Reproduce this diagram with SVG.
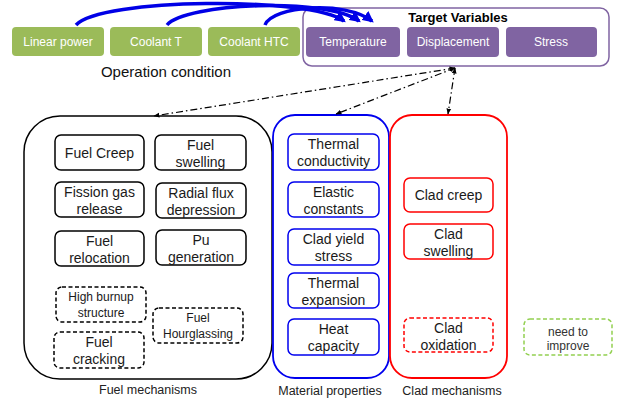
<svg xmlns="http://www.w3.org/2000/svg" width="617" height="400" viewBox="0 0 617 400">
<defs>
<marker id="blueHead" viewBox="0 0 10 10" refX="8" refY="5" markerWidth="3.2" markerHeight="3.2" orient="auto" markerUnits="strokeWidth"><path d="M0,0 L10,5 L0,10 z" fill="#0000E6"/></marker>
<marker id="dHead" viewBox="0 0 10 10" refX="9" refY="5" markerWidth="5" markerHeight="5" orient="auto-start-reverse" markerUnits="strokeWidth"><path d="M0,1 L10,5 L0,9 z" fill="#000"/></marker>
<style>
.t{font-family:"Liberation Sans",Arial,sans-serif;text-anchor:middle}
.in{font-size:14px;fill:#1a1a1a}
.wh{font-size:12px;fill:#ffffff}
.lab{font-size:12.5px;fill:#222}
.g{fill:#9BBB59}
.p{fill:#8064A2}
.bk{fill:#fff;stroke:#000;stroke-width:1.5}
.bkd{fill:#fff;stroke:#000;stroke-width:1.5;stroke-dasharray:4,2.5}
.bl{fill:#fff;stroke:#0000EE;stroke-width:1.5}
.rd{fill:#fff;stroke:#FF0000;stroke-width:1.5}
.rdd{fill:#fff;stroke:#FF0000;stroke-width:1.5;stroke-dasharray:4,2.5}
.arc{fill:none;stroke:#0000E6;stroke-width:3.5;marker-end:url(#blueHead)}
.dd{fill:none;stroke:#000;stroke-width:1.2;stroke-dasharray:7,3,1.5,3;marker-end:url(#dHead);marker-start:url(#dHead)}
</style>
</defs>
<rect width="617" height="400" fill="#fff"/>

<g id="operation-condition">
<g id="linear-power"><rect class="g" x="12" y="27" width="92" height="29" rx="4"/><text class="t wh" x="58" y="46">Linear power</text></g>
<g id="coolant-t"><rect class="g" x="110" y="27" width="92" height="29" rx="4"/><text class="t wh" x="156" y="46">Coolant T</text></g>
<g id="coolant-htc"><rect class="g" x="208" y="27" width="92" height="29" rx="4"/><text class="t wh" x="254" y="46">Coolant HTC</text></g>
<text class="t" x="166" y="77" style="font-size:15px;fill:#111">Operation condition</text>
</g>

<g id="target-variables">
<rect x="303" y="8" width="306" height="58" rx="9" fill="#fff" stroke="#8064A2" stroke-width="1.5"/>
<text class="t" x="458" y="22" style="font-size:13px;font-weight:bold;fill:#000">Target Variables</text>
<g id="temperature"><rect class="p" x="306" y="27" width="94" height="30" rx="4"/><text class="t wh" x="353" y="46">Temperature</text></g>
<g id="displacement"><rect class="p" x="407" y="27" width="92" height="30" rx="4"/><text class="t wh" x="453" y="46">Displacement</text></g>
<g id="stress"><rect class="p" x="506" y="27" width="91" height="30" rx="4"/><text class="t wh" x="551" y="46">Stress</text></g>
</g>

<g id="fuel-mechanisms">
<rect x="24" y="116" width="248" height="263" rx="36" fill="#fff" stroke="#000" stroke-width="1.5"/>
<text class="t lab" x="148" y="394">Fuel mechanisms</text>
<g id="fuel-creep"><rect class="bk" x="55" y="135" width="89" height="35" rx="6"/><text class="t in" x="99.5" y="158">Fuel Creep</text></g>
<g id="fuel-swelling"><rect class="bk" x="155" y="135" width="91" height="35" rx="6"/><text class="t in" x="200.5" y="150">Fuel</text><text class="t in" x="200.5" y="167">swelling</text></g>
<g id="fission-gas"><rect class="bk" x="55" y="182" width="89" height="35" rx="6"/><text class="t in" x="99.5" y="197">Fission gas</text><text class="t in" x="99.5" y="214">release</text></g>
<g id="radial-flux"><rect class="bk" x="156" y="183" width="90" height="35" rx="6"/><text class="t in" x="201" y="198">Radial flux</text><text class="t in" x="201" y="215">depression</text></g>
<g id="fuel-relocation"><rect class="bk" x="55" y="231" width="89" height="35" rx="6"/><text class="t in" x="99.5" y="246">Fuel</text><text class="t in" x="99.5" y="263">relocation</text></g>
<g id="pu-generation"><rect class="bk" x="156" y="230" width="90" height="35" rx="6"/><text class="t in" x="201" y="245">Pu</text><text class="t in" x="201" y="262">generation</text></g>
<g id="high-burnup"><rect class="bkd" x="56" y="287" width="90" height="35" rx="6"/><text class="t" x="101" y="301" style="font-size:12px;fill:#1a1a1a">High burnup</text><text class="t" x="101" y="317" style="font-size:12px;fill:#1a1a1a">structure</text></g>
<g id="fuel-hourglassing"><rect class="bkd" x="153" y="308" width="90" height="35" rx="6"/><text class="t" x="198" y="322" style="font-size:12px;fill:#1a1a1a">Fuel</text><text class="t" x="198" y="338" style="font-size:12px;fill:#1a1a1a">Hourglassing</text></g>
<g id="fuel-cracking"><rect class="bkd" x="54" y="332" width="90" height="36" rx="6"/><text class="t in" x="99" y="347">Fuel</text><text class="t in" x="99" y="364">cracking</text></g>
</g>

<g id="material-properties">
<rect x="273" y="115" width="116" height="263" rx="22" fill="#fff" stroke="#0000EE" stroke-width="1.8"/>
<text class="t lab" x="330" y="395">Material properties</text>
<g id="thermal-conductivity"><rect class="bl" x="288" y="134" width="91" height="36" rx="6"/><text class="t in" x="333.5" y="149">Thermal</text><text class="t in" x="333.5" y="166">conductivity</text></g>
<g id="elastic-constants"><rect class="bl" x="288" y="182" width="91" height="35" rx="6"/><text class="t in" x="333.5" y="197">Elastic</text><text class="t in" x="333.5" y="214">constants</text></g>
<g id="clad-yield"><rect class="bl" x="288" y="229" width="91" height="36" rx="6"/><text class="t in" x="333.5" y="244">Clad yield</text><text class="t in" x="333.5" y="261">stress</text></g>
<g id="thermal-expansion"><rect class="bl" x="288" y="273" width="91" height="35" rx="6"/><text class="t in" x="333.5" y="288">Thermal</text><text class="t in" x="333.5" y="305">expansion</text></g>
<g id="heat-capacity"><rect class="bl" x="288" y="319" width="91" height="36" rx="6"/><text class="t in" x="333.5" y="334">Heat</text><text class="t in" x="333.5" y="351">capacity</text></g>
</g>

<g id="clad-mechanisms">
<rect x="390" y="115" width="117" height="263" rx="22" fill="#fff" stroke="#FF0000" stroke-width="1.8"/>
<text class="t lab" x="452" y="395">Clad mechanisms</text>
<g id="clad-creep"><rect class="rd" x="404" y="178" width="89" height="34" rx="6"/><text class="t in" x="448.5" y="200">Clad creep</text></g>
<g id="clad-swelling"><rect class="rd" x="404" y="224" width="89" height="35" rx="6"/><text class="t in" x="448.5" y="239">Clad</text><text class="t in" x="448.5" y="256">swelling</text></g>
<g id="clad-oxidation"><rect class="rdd" x="404" y="318" width="89" height="34" rx="6"/><text class="t in" x="448.5" y="333">Clad</text><text class="t in" x="448.5" y="350">oxidation</text></g>
</g>

<g id="need-to-improve"><rect x="524" y="319" width="88" height="36" rx="6" fill="#fff" stroke="#92D050" stroke-width="1.5" stroke-dasharray="4,2.5"/><text class="t" x="568" y="336" style="font-size:12px;fill:#333">need to</text><text class="t" x="568" y="350" style="font-size:12px;fill:#333">improve</text></g>

<g id="connectors">
<path class="arc" d="M76,25 C100,-2 310,-4 344,21"/>
<path class="arc" d="M167,25 C185,3 328,-3 359,21"/>
<path class="arc" d="M265,25 C272,6 345,0 372,21"/>
<path class="dd" d="M455,68 L154,116"/>
<path class="dd" d="M455,68 L336,114"/>
<path class="dd" d="M455,68 L448,114"/>
</g>
</svg>
